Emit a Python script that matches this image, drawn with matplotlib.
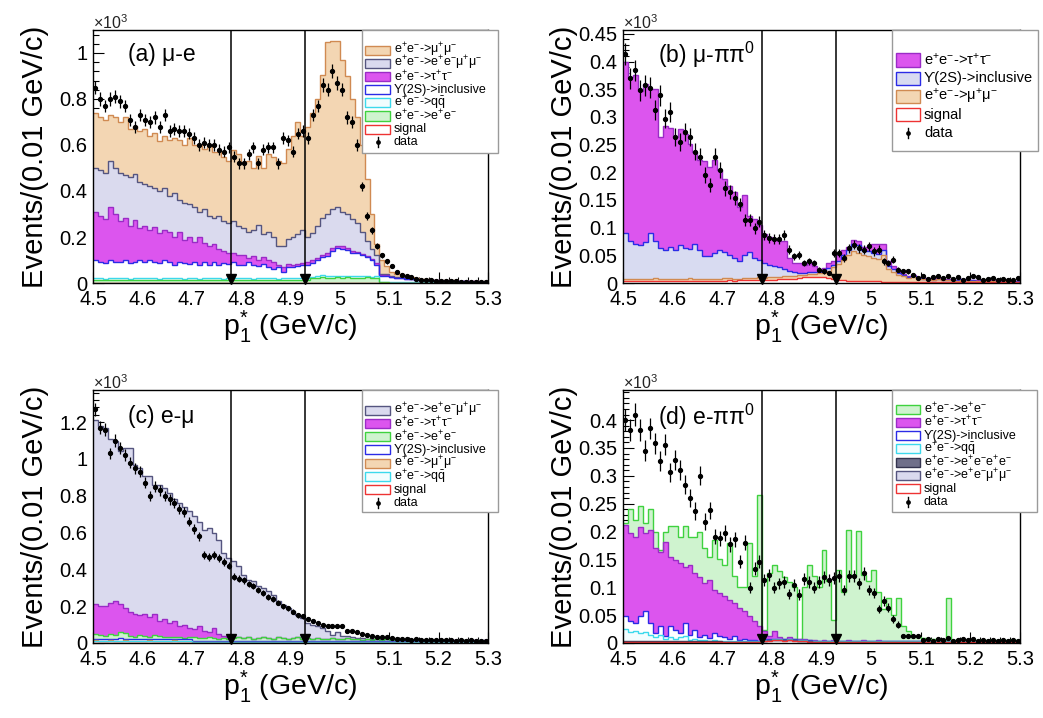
import numpy as np
import matplotlib
matplotlib.use("Agg")
import matplotlib.pyplot as plt
from matplotlib.patches import Rectangle
from matplotlib.lines import Line2D
import matplotlib.transforms as mtransforms
from matplotlib.ticker import FuncFormatter, MultipleLocator

plt.rcParams['font.family'] = ['Liberation Sans', 'DejaVu Sans']
plt.rcParams['mathtext.fontset'] = 'custom'
plt.rcParams['mathtext.rm'] = 'Liberation Sans'
plt.rcParams['mathtext.it'] = 'Liberation Sans:italic'
plt.rcParams['mathtext.bf'] = 'Liberation Sans:bold'
plt.rcParams['mathtext.default'] = 'regular'

# ---------------- binning ----------------
x_lo, x_hi, n_bins = 4.5, 5.3, 80
cut_lo, cut_hi = 4.78, 4.93

# ---------------- panel (a) mu-e ----------------
a_signal = [0.002]*60 + [0.001]*20
a_qq = [0.008,0.009,0.007,0.008,0.008,0.009,0.008,0.007,0.008,0.008,
        0.009,0.008,0.008,0.007,0.008,0.009,0.008,0.008,0.007,0.008,
        0.008,0.008,0.009,0.008,0.007,0.008,0.008,0.009,0.008,0.008,
        0.007,0.008,0.008,0.008,0.009,0.008,0.007,0.008,0.008,0.008,
        0.008,0.009,0.008,0.008,0.008,0.008,0.009,0.008,0.008,0.007,
        0.008,0.008,0.009,0.008,0.008,0.007,0.008,0.008,0.001,0.001,
        0.001,0.001,0.001,0.001,0.001,0.001,0.001,0.001,0.001,0.001,
        0.001,0.001,0.001,0.001,0.001,0.001,0.001,0.001,0.001,0.001]
a_ee = [0.010,0.011,0.009,0.012,0.010,0.009,0.011,0.010,0.012,0.010,
        0.009,0.010,0.012,0.010,0.011,0.009,0.010,0.011,0.010,0.012,
        0.010,0.009,0.011,0.010,0.012,0.010,0.009,0.011,0.010,0.010,
        0.011,0.010,0.009,0.012,0.010,0.010,0.011,0.009,0.010,0.011,
        0.010,0.011,0.010,0.010,0.018,0.020,0.022,0.019,0.021,0.023,
        0.020,0.022,0.019,0.021,0.020,0.022,0.018,0.020,0.001,0.001,
        0.001,0.001,0.001,0.001,0.001,0.001,0.001,0.001,0.001,0.001,
        0.001,0.001,0.001,0.001,0.001,0.001,0.001,0.001,0.001,0.001]
a_y2s = [0.08,0.07,0.07,0.08,0.07,0.07,0.08,0.07,0.07,0.08,
         0.07,0.08,0.07,0.07,0.08,0.07,0.06,0.07,0.07,0.06,
         0.07,0.06,0.07,0.06,0.07,0.06,0.07,0.06,0.07,0.06,
         0.06,0.07,0.06,0.05,0.06,0.05,0.04,0.05,0.03,0.05,
         0.05,0.05,0.06,0.06,0.06,0.07,0.08,0.09,0.11,0.12,
         0.12,0.11,0.10,0.10,0.09,0.08,0.07,0.05,0.027,0.027,
         0.022,0.017,0.017,0.013,0.013,0.008,0.008,0.008,0.006,0.006,
         0.005,0.005,0.005,0.004,0.004,0.004,0.003,0.003,0.002,0.002]
a_tautau = [0.21,0.20,0.19,0.23,0.21,0.18,0.18,0.16,0.18,0.14,
            0.16,0.13,0.15,0.13,0.13,0.13,0.12,0.13,0.10,0.12,
            0.09,0.12,0.08,0.08,0.08,0.07,0.05,0.05,0.04,0.04,
            0.04,0.02,0.04,0.03,0.03,0.03,0.03,0.01,0.02,0.01,
            0.01,0.01,0.005,0.01,0.01,0.01,0.01,0.01,0.01,0.01,
            0.01,0.01,0.01,0.005,0.005,0.005,0.005,0.005,0.005,0.005,
            0.003,0.003,0.003,0.003,0.002,0.002,0.002,0.002,0.002,0.002,
            0.002,0.002,0.002,0.002,0.001,0.001,0.001,0.001,0.001,0.001]
a_eemumu = [0.19,0.20,0.20,0.20,0.20,0.21,0.19,0.21,0.20,0.20,
            0.18,0.19,0.17,0.18,0.18,0.16,0.19,0.14,0.16,0.14,
            0.15,0.11,0.15,0.13,0.11,0.14,0.13,0.13,0.14,0.13,
            0.12,0.11,0.11,0.15,0.10,0.12,0.11,0.08,0.09,0.11,
            0.12,0.13,0.145,0.11,0.12,0.14,0.16,0.17,0.17,0.17,
            0.15,0.15,0.14,0.125,0.095,0.065,0.045,0.035,0.005,0.003,
            0.002,0.002,0.001,0.002,0.001,0.003,0.001,0.001,0.001,0.001,
            0.001,0.001,0.001,0.001,0.001,0.001,0.001,0.001,0.001,0.001]
a_mumu = [0.24,0.23,0.23,0.20,0.22,0.22,0.25,0.21,0.21,0.22,
          0.24,0.22,0.24,0.22,0.23,0.24,0.24,0.26,0.25,0.29,
          0.27,0.29,0.26,0.31,0.29,0.28,0.28,0.27,0.31,0.31,
          0.28,0.31,0.27,0.30,0.29,0.34,0.35,0.37,0.36,0.39,
          0.44,0.49,0.41,0.48,0.52,0.55,0.62,0.75,0.73,0.72,
          0.66,0.60,0.52,0.46,0.38,0.27,0.15,0.05,0.06,0.035,
          0.02,0.015,0.013,0.01,0.007,0.005,0.005,0.003,0.002,0.002,
          0.001,0.001,0.001,0.001,0.001,0.001,0.001,0.001,0.001,0.001]
a_data = [0.85,0.80,0.77,0.80,0.81,0.79,0.77,0.71,0.68,0.73,
          0.71,0.70,0.72,0.68,0.73,0.66,0.67,0.66,0.66,0.65,
          0.63,0.60,0.61,0.60,0.60,0.58,0.57,0.59,0.55,0.52,
          0.52,0.56,0.59,0.52,0.58,0.59,0.59,0.52,0.63,0.62,
          0.57,0.65,0.66,0.63,0.73,0.77,0.86,0.84,0.92,0.87,
          0.84,0.72,0.70,0.60,0.42,0.29,0.23,0.16,0.12,0.094,
          0.072,0.05,0.036,0.029,0.026,0.017,0.014,0.014,0.012,0.010,
          0.010,0.009,0.007,0.007,0.006,0.006,0.006,0.004,0.004,0.003]

# ---------------- panel (b) mu-pi pi0 ----------------
b_signal = [0.004,0.003,0.004,0.004,0.003,0.004,0.004,0.003,0.004,0.004,
            0.004,0.004,0.003,0.004,0.004,0.004,0.003,0.004,0.004,0.004,
            0.004,0.005,0.004,0.005,0.005,0.005,0.005,0.006,0.006,0.006,
            0.006,0.007,0.007,0.008,0.008,0.009,0.010,0.011,0.011,0.011,
            0.010,0.009,0.008,0.006,0.005,0.004,0.004,0.003,0.003,0.003,
            0.003,0.003,0.002,0.002,0.002,0.002,0.002,0.002,0.001,0.001,
            0.001,0.001,0.001,0.001,0.001,0.001,0.001,0.001,0.001,0.001,
            0.001,0.001,0.001,0.001,0.001,0.001,0.001,0.001,0.001,0.001]
b_mumu = [0.004,0.005,0.004,0.003,0.004,0.004,0.005,0.004,0.003,0.004,
          0.004,0.003,0.004,0.005,0.004,0.004,0.004,0.003,0.004,0.004,
          0.005,0.004,0.004,0.003,0.004,0.004,0.004,0.004,0.003,0.004,
          0.004,0.004,0.005,0.005,0.005,0.005,0.005,0.006,0.006,0.007,
          0.008,0.013,0.020,0.028,0.037,0.046,0.054,0.052,0.047,0.045,
          0.042,0.040,0.048,0.023,0.018,0.013,0.010,0.007,0.009,0.006,
          0.006,0.006,0.004,0.006,0.004,0.004,0.004,0.003,0.005,0.003,
          0.003,0.002,0.003,0.002,0.002,0.002,0.001,0.002,0.001,0.001]
b_y2s = [0.082,0.067,0.062,0.062,0.067,0.082,0.067,0.057,0.052,0.057,
         0.052,0.062,0.057,0.052,0.062,0.052,0.042,0.042,0.047,0.052,
         0.047,0.042,0.037,0.032,0.042,0.047,0.037,0.032,0.027,0.022,
         0.020,0.017,0.013,0.009,0.007,0.004,0.003,0.002,0.002,0.002,
         0.004,0.005,0.004,0.006,0.008,0.010,0.012,0.013,0.010,0.010,
         0.010,0.009,0.010,0.005,0.005,0.003,0.002,0.002,0.002,0.002,
         0.001,0.001,0.001,0.001,0.001,0.001,0.001,0.001,0.001,0.001,
         0.001,0.001,0.001,0.001,0.001,0.001,0.001,0.001,0.001,0.001]
b_tautau = [0.310,0.297,0.305,0.278,0.285,0.260,0.275,0.200,0.225,0.215,
            0.204,0.210,0.205,0.190,0.167,0.162,0.172,0.160,0.167,0.144,
            0.131,0.124,0.120,0.098,0.108,0.065,0.069,0.062,0.052,0.051,
            0.049,0.047,0.050,0.023,0.016,0.018,0.015,0.018,0.011,0.004,
            0.005,0.009,0.008,0.010,0.010,0.005,0.008,0.007,0.005,0.007,
            0.015,0.018,0.010,0.010,0.005,0.002,0.002,0.001,0.002,0.001,
            0.001,0.001,0.001,0.001,0.001,0.001,0.001,0.001,0.001,0.001,
            0.001,0.001,0.001,0.001,0.001,0.001,0.001,0.001,0.001,0.001]
b_data = [0.414,0.370,0.384,0.348,0.357,0.353,0.312,0.339,0.297,0.309,
          0.264,0.255,0.273,0.264,0.237,0.228,0.195,0.177,0.228,0.204,
          0.171,0.165,0.153,0.142,0.114,0.114,0.099,0.111,0.087,0.081,
          0.079,0.079,0.087,0.060,0.048,0.051,0.036,0.039,0.036,0.024,
          0.021,0.018,0.054,0.054,0.045,0.063,0.069,0.063,0.060,0.066,
          0.057,0.060,0.039,0.036,0.042,0.024,0.021,0.021,0.015,0.009,
          0.012,0.008,0.010,0.013,0.009,0.012,0.008,0.010,0.006,0.009,
          0.012,0.011,0.006,0.007,0.009,0.005,0.008,0.006,0.005,0.009]

# ---------------- panel (c) e-mu ----------------
c_signal = [0.002]*80
c_qq = [0.009,0.008,0.008,0.009,0.008,0.008,0.009,0.008,0.007,0.008,
        0.008,0.009,0.008,0.007,0.008,0.008,0.009,0.008,0.008,0.007,
        0.003,0.003,0.003,0.003,0.003,0.003,0.003,0.003,0.003,0.003,
        0.003,0.003,0.003,0.003,0.003,0.003,0.003,0.003,0.003,0.003,
        0.003,0.003,0.003,0.003,0.003,0.003,0.003,0.003,0.003,0.003,
        0.003,0.003,0.003,0.003,0.003,0.003,0.003,0.003,0.003,0.003,
        0.002,0.002,0.002,0.002,0.002,0.002,0.002,0.002,0.002,0.002,
        0.002,0.002,0.002,0.002,0.002,0.002,0.002,0.002,0.002,0.002]
c_mumu = [0.003]*80
c_y2s = [0.010,0.011,0.010,0.009,0.010,0.012,0.010,0.009,0.010,0.011,
         0.010,0.009,0.010,0.011,0.010,0.010,0.009,0.010,0.010,0.011,
         0.004,0.004,0.005,0.004,0.004,0.004,0.005,0.004,0.004,0.004,
         0.004,0.004,0.004,0.005,0.004,0.004,0.004,0.004,0.004,0.004,
         0.004,0.004,0.004,0.004,0.004,0.004,0.004,0.004,0.004,0.004,
         0.004,0.004,0.004,0.004,0.004,0.004,0.004,0.004,0.004,0.004,
         0.003,0.003,0.003,0.003,0.003,0.003,0.003,0.003,0.003,0.003,
         0.003,0.003,0.003,0.003,0.003,0.003,0.003,0.003,0.003,0.003]
c_ee = [0.027,0.022,0.017,0.027,0.022,0.037,0.032,0.017,0.012,0.017,
        0.017,0.012,0.022,0.017,0.007,0.007,0.012,0.007,0.002,0.007,
        0.018,0.013,0.013,0.018,0.013,0.008,0.013,0.008,0.013,0.018,
        0.013,0.018,0.008,0.013,0.018,0.013,0.008,0.018,0.013,0.008,
        0.013,0.018,0.008,0.013,0.008,0.013,0.008,0.008,0.013,0.008,
        0.008,0.013,0.008,0.008,0.003,0.008,0.003,0.008,0.003,0.008,
        0.006,0.005,0.008,0.004,0.006,0.005,0.003,0.006,0.005,0.003,
        0.005,0.003,0.005,0.003,0.004,0.005,0.003,0.003,0.005,0.003]
c_tautau = [0.160,0.155,0.160,0.170,0.185,0.150,0.135,0.130,0.125,0.110,
            0.120,0.105,0.115,0.080,0.100,0.080,0.085,0.060,0.075,0.050,
            0.045,0.065,0.040,0.030,0.055,0.030,0.010,0.010,0.005,0.003,
            0.002,0.002,0.002,0.002,0.002,0.002,0.002,0.002,0.002,0.002,
            0.002,0.002,0.002,0.002,0.002,0.002,0.002,0.002,0.002,0.002,
            0.001,0.001,0.001,0.001,0.001,0.001,0.001,0.001,0.001,0.001,
            0.001,0.001,0.001,0.001,0.001,0.001,0.001,0.001,0.001,0.001,
            0.001,0.001,0.001,0.001,0.001,0.001,0.001,0.001,0.001,0.001]
c_eemumu = [1.000,0.980,0.970,0.890,0.870,0.830,0.870,0.890,0.810,0.800,
            0.750,0.765,0.700,0.740,0.710,0.705,0.660,0.670,0.640,0.635,
            0.615,0.570,0.550,0.564,0.520,0.510,0.455,0.430,0.413,0.383,
            0.343,0.312,0.313,0.281,0.268,0.253,0.240,0.194,0.181,0.168,
            0.145,0.122,0.114,0.082,0.078,0.063,0.059,0.041,0.018,0.036,
            0.015,0.010,0.012,0.006,0.011,0.002,0.006,0.003,0.004,0.002,
            0.002,0.002,0.002,0.002,0.002,0.002,0.002,0.002,0.002,0.002,
            0.001,0.001,0.001,0.001,0.001,0.001,0.001,0.001,0.001,0.001]
c_data = [1.27,1.17,1.16,1.03,1.10,1.06,1.02,0.98,0.95,0.93,
          0.87,0.80,0.85,0.83,0.80,0.78,0.76,0.73,0.71,0.66,
          0.62,0.58,0.48,0.47,0.48,0.46,0.44,0.42,0.36,0.35,
          0.34,0.32,0.31,0.29,0.27,0.25,0.24,0.22,0.20,0.19,
          0.17,0.15,0.145,0.13,0.12,0.11,0.10,0.095,0.09,0.09,
          0.09,0.065,0.065,0.06,0.05,0.045,0.04,0.035,0.03,0.03,
          0.025,0.022,0.02,0.022,0.018,0.02,0.016,0.018,0.015,0.017,
          0.015,0.014,0.016,0.013,0.015,0.012,0.014,0.011,0.013,0.010]

# ---------------- panel (d) e-pi pi0 ----------------
d_signal = [0.001,0.001,0.001,0.001,0.001,0.001,0.001,0.001,0.001,0.001,
            0.001,0.001,0.001,0.001,0.001,0.001,0.001,0.001,0.001,0.001,
            0.001,0.001,0.001,0.001,0.001,0.001,0.001,0.001,0.003,0.004,
            0.005,0.005,0.004,0.005,0.004,0.003,0.003,0.002,0.001,0.001,
            0.001,0.001,0.001,0.001,0.001,0.001,0.001,0.001,0.001,0.001,
            0.001,0.001,0.001,0.001,0.001,0.001,0.001,0.001,0.001,0.001,
            0.001,0.001,0.001,0.001,0.001,0.001,0.001,0.001,0.001,0.001,
            0.001,0.001,0.001,0.001,0.001,0.001,0.001,0.001,0.001,0.001]
d_eemumu = [0.001]*80
d_eeee = [0.001]*20 + [0.0]*60
d_qq = [0.022,0.017,0.019,0.015,0.017,0.012,0.007,0.011,0.005,0.007,
        0.005,0.007,0.009,0.003,0.005,0.002,0.003,0.001,0.003,0.001,
        0.001,0.001,0.001,0.001,0.001,0.001,0.001,0.001,0.001,0.001,
        0.001,0.001,0.001,0.001,0.001,0.001,0.001,0.001,0.001,0.001,
        0.001,0.001,0.001,0.001,0.001,0.001,0.001,0.001,0.001,0.001,
        0.001,0.001,0.001,0.001,0.001,0.001,0.001,0.001,0.001,0.001,
        0.001,0.001,0.001,0.001,0.001,0.001,0.001,0.001,0.001,0.001,
        0.001,0.001,0.001,0.001,0.001,0.001,0.001,0.001,0.001,0.001]
d_y2s = [0.023,0.019,0.014,0.030,0.037,0.021,0.008,0.016,0.004,0.020,
         0.016,0.008,0.024,0.009,0.016,0.006,0.009,0.005,0.012,0.008,
         0.007,0.005,0.009,0.003,0.005,0.002,0.003,0.001,0.002,0.001,
         0.001,0.001,0.001,0.001,0.001,0.001,0.001,0.001,0.001,0.001,
         0.001,0.001,0.001,0.001,0.001,0.001,0.001,0.001,0.001,0.001,
         0.001,0.001,0.001,0.001,0.001,0.001,0.001,0.001,0.001,0.001,
         0.001,0.001,0.001,0.001,0.001,0.001,0.001,0.001,0.001,0.001,
         0.001,0.001,0.001,0.001,0.001,0.001,0.001,0.001,0.001,0.001]
d_tautau = [0.164,0.158,0.155,0.161,0.140,0.167,0.152,0.134,0.170,0.125,
            0.125,0.125,0.101,0.125,0.101,0.108,0.092,0.104,0.078,0.078,
            0.074,0.070,0.060,0.057,0.049,0.043,0.033,0.026,0.014,0.005,
            0.013,0.002,0.001,0.002,0.001,0.001,0.001,0.000,0.001,0.000,
            0.001,0.000,0.001,0.000,0.000,0.001,0.000,0.000,0.001,0.000,
            0.000,0.001,0.000,0.000,0.000,0.000,0.000,0.000,0.000,0.000,
            0.000,0.000,0.000,0.000,0.000,0.000,0.000,0.000,0.000,0.000,
            0.000,0.000,0.000,0.000,0.000,0.000,0.000,0.000,0.000,0.000]
d_ee = [0.003,0.043,0.029,0.036,0.018,0.037,0.030,0.003,0.018,0.055,
        0.061,0.047,0.073,0.050,0.065,0.081,0.063,0.042,0.089,0.060,
        0.056,0.102,0.048,0.037,0.043,0.132,0.081,0.235,0.002,0.113,
        0.119,0.120,0.111,0.100,0.092,0.001,0.094,0.135,0.116,0.097,
        0.162,0.107,0.037,0.127,0.087,0.197,0.117,0.197,0.117,0.107,
        0.127,0.087,0.057,0.077,0.047,0.077,0.027,0.017,0.009,0.007,
        0.005,0.003,0.003,0.002,0.002,0.077,0.001,0.001,0.001,0.001,
        0.001,0.001,0.001,0.001,0.001,0.001,0.001,0.001,0.001,0.001]
d_data = [0.400,0.382,0.410,0.382,0.345,0.385,0.358,0.327,0.356,0.306,
          0.328,0.310,0.284,0.260,0.237,0.300,0.218,0.238,0.191,0.188,
          0.198,0.177,0.186,0.146,0.180,0.099,0.133,0.146,0.113,0.122,
          0.099,0.107,0.109,0.088,0.104,0.087,0.115,0.110,0.099,0.110,
          0.119,0.113,0.116,0.120,0.095,0.120,0.120,0.107,0.125,0.095,
          0.090,0.061,0.076,0.063,0.043,0.033,0.013,0.013,0.013,0.012,
          0.006,0.008,0.004,0.007,0.005,0.009,0.004,0.006,0.008,0.005,
          0.007,0.004,0.006,0.003,0.005,0.004,0.006,0.003,0.005,0.004]

# ---------------- styles ----------------
STY = {
    'mumu':   dict(fc='#f3d6b3', ec='#d08a52'),
    'eemumu': dict(fc='#dadaee', ec='#55557f'),
    'tautau': dict(fc='#dc55ee', ec='#9a2cc6'),
    'y2s':    dict(fc='#ffffff', ec='#2b2be6'),
    'y2s_b':  dict(fc='#d8dbf1', ec='#2b2be6'),
    'qq':     dict(fc='#f2fdfe', ec='#3cd9ec'),
    'ee':     dict(fc='#cff3cf', ec='#3fd23f'),
    'signal': dict(fc='#ffffff', ec='#ee3333'),
    'eeee':   dict(fc='#70708a', ec='#34344f'),
}
LBL = {
    'mumu': 'e$^{+}$e$^{-}$->μ$^{+}$μ$^{-}$',
    'eemumu': 'e$^{+}$e$^{-}$->e$^{+}$e$^{-}$μ$^{+}$μ$^{-}$',
    'tautau': 'e$^{+}$e$^{-}$->τ$^{+}$τ$^{-}$',
    'y2s': 'ϒ(2S)->inclusive',
    'y2s_b': 'ϒ(2S)->inclusive',
    'qq': r'e$^{+}$e$^{-}$->q$\bar{\mathrm{q}}$',
    'ee': 'e$^{+}$e$^{-}$->e$^{+}$e$^{-}$',
    'eeee': 'e$^{+}$e$^{-}$->e$^{+}$e$^{-}$e$^{+}$e$^{-}$',
    'signal': 'signal',
    'data': 'data',
}

W, H = 1043, 718
fig = plt.figure(figsize=(W/100, H/100), dpi=100)
edges = np.linspace(x_lo, x_hi, n_bins + 1)
centers = 0.5 * (edges[:-1] + edges[1:])


def fx(px):
    return px / W


def fy(py):
    return 1 - py / H


def make_axes(l, t, r, b):
    return fig.add_axes([fx(l), fy(b), fx(r) - fx(l), fy(t) - fy(b)])


def draw_panel(ax, stack, data, ymax, yticks, yminor, title, tx, ty):
    # stack: list of (values, style) bottom -> top, drawn like a THStack
    tops = []
    total = np.zeros(n_bins)
    for vals, key in stack:
        total = total + np.asarray(vals, dtype=float)
        tops.append((total.copy(), key))
    for top, key in reversed(tops):
        s = STY[key]
        ax.stairs(top, edges, baseline=0, fill=True, facecolor=s['fc'],
                  edgecolor='none', linewidth=0, zorder=2)
        ax.stairs(top, edges, baseline=None, color=s['ec'], linewidth=1.0, zorder=3)
    d = np.asarray(data, dtype=float)
    ax.errorbar(centers, d, yerr=np.sqrt(d * 1000.0) / 1000.0, fmt='o', ms=2.8,
                color='black', ecolor='black', elinewidth=0.9, capsize=0, zorder=6)
    for xc in (cut_lo, cut_hi):
        ax.axvline(xc, color='black', lw=1.1, zorder=7)
        off = mtransforms.offset_copy(ax.transData, fig=fig, x=0, y=3.2, units='points')
        ax.plot([xc], [0], marker='v', ms=6.5, color='black', transform=off,
                clip_on=False, zorder=8)
    ax.set_xlim(x_lo, x_hi)
    ax.set_ylim(0, ymax)
    ax.set_xticks([4.5, 4.6, 4.7, 4.8, 4.9, 5.0, 5.1, 5.2, 5.3])
    ax.xaxis.set_minor_locator(MultipleLocator(0.02))
    ax.set_yticks(yticks)
    ax.yaxis.set_minor_locator(MultipleLocator(yminor))
    fmt = FuncFormatter(lambda v, p: '%g' % round(v, 4))
    ax.xaxis.set_major_formatter(fmt)
    ax.yaxis.set_major_formatter(fmt)
    ax.tick_params(which='both', direction='in', top=False, right=False,
                   labelsize=14.5, width=0.8)
    ax.tick_params(which='major', length=8)
    ax.tick_params(which='minor', length=4)
    ax.tick_params(axis='x', pad=5)
    ax.tick_params(axis='y', pad=4)
    for sp in ax.spines.values():
        sp.set_linewidth(1.0)
        sp.set_zorder(9)
    ax.text(fx(tx), fy(ty), title, transform=fig.transFigure, fontsize=16.5,
            ha='left', va='center')


def draw_legend(box, rows, keys, patch_x, text_x, patch_h, fs):
    x0, y0, x1, y1 = box
    fig.add_artist(Rectangle((fx(x0), fy(y1)), fx(x1) - fx(x0), fy(y0) - fy(y1),
                             transform=fig.transFigure, facecolor='white',
                             edgecolor='#9a9a9a', linewidth=1.0, zorder=20))
    for ry, key in zip(rows, keys):
        if key == 'data':
            cx = 0.5 * (patch_x[0] + patch_x[1])
            fig.add_artist(Line2D([fx(cx), fx(cx)], [fy(ry - 5), fy(ry + 5)],
                                  transform=fig.transFigure, color='black',
                                  lw=1.0, zorder=21))
            fig.add_artist(Line2D([fx(cx)], [fy(ry)], transform=fig.transFigure,
                                  marker='o', ms=2.4, color='black', zorder=21))
        else:
            s = STY[key]
            fig.add_artist(Rectangle((fx(patch_x[0]), fy(ry + patch_h / 2)),
                                     fx(patch_x[1]) - fx(patch_x[0]),
                                     fy(ry - patch_h / 2) - fy(ry + patch_h / 2),
                                     transform=fig.transFigure, facecolor=s['fc'],
                                     edgecolor=s['ec'], linewidth=1.0, zorder=21))
        fig.text(fx(text_x), fy(ry), LBL[key], fontsize=fs, ha='left',
                 va='center', zorder=22)


# ---- layout in pixels ----
L1, R1, L2, R2 = 93, 488, 623, 1020
T1, B1, T2, B2 = 30, 283, 390, 643

axa = make_axes(L1, T1, R1, B1)
draw_panel(axa, [(a_signal, 'signal'), (a_ee, 'ee'), (a_qq, 'qq'), (a_y2s, 'y2s'),
                 (a_tautau, 'tautau'), (a_eemumu, 'eemumu'), (a_mumu, 'mumu')],
           a_data, 1.1, [0, 0.2, 0.4, 0.6, 0.8, 1.0], 0.04, '(a) μ-e', 128, 55)

axb = make_axes(L2, T1, R2, B1)
draw_panel(axb, [(b_signal, 'signal'), (b_mumu, 'mumu'), (b_y2s, 'y2s_b'),
                 (b_tautau, 'tautau')],
           b_data, 0.457, [0, 0.05, 0.1, 0.15, 0.2, 0.25, 0.3, 0.35, 0.4, 0.45], 0.01,
           '(b) μ-ππ$^{0}$', 658, 55)

axc = make_axes(L1, T2, R1, B2)
draw_panel(axc, [(c_signal, 'signal'), (c_qq, 'qq'), (c_mumu, 'mumu'), (c_y2s, 'y2s'),
                 (c_ee, 'ee'), (c_tautau, 'tautau'), (c_eemumu, 'eemumu')],
           c_data, 1.375, [0, 0.2, 0.4, 0.6, 0.8, 1.0, 1.2], 0.04, '(c) e-μ', 128, 417)

axd = make_axes(L2, T2, R2, B2)
draw_panel(axd, [(d_signal, 'signal'), (d_eemumu, 'eemumu'), (d_eeee, 'eeee'),
                 (d_qq, 'qq'), (d_y2s, 'y2s'), (d_tautau, 'tautau'), (d_ee, 'ee')],
           d_data, 0.454, [0, 0.05, 0.1, 0.15, 0.2, 0.25, 0.3, 0.35, 0.4], 0.01,
           '(d) e-ππ$^{0}$', 658, 417)

# axis titles
for (l, r, t, b, yx) in [(L1, R1, T1, B1, 35), (L2, R2, T1, B1, 564),
                         (L1, R1, T2, B2, 35), (L2, R2, T2, B2, 564)]:
    fig.text(fx(yx), fy(0.5 * (t + b)), 'Events/(0.01 GeV/c)',
             rotation=90, fontsize=21, ha='center', va='center')
    fig.text(fx(0.5 * (l + r)), fy(b + 52), r'p$^{*}_{1}$ (GeV/c)',
             fontsize=20.5, ha='center', va='baseline')
    fig.text(fx(l), fy(t - 1), r'×10$^{3}$', fontsize=11.5,
             ha='left', va='baseline', color='#222222')

# legends
rows8_a = [50 + 13.2 * k for k in range(8)]
draw_legend((362, 30, 498, 153), rows8_a,
            ['mumu', 'eemumu', 'tautau', 'y2s', 'qq', 'ee', 'signal', 'data'],
            (365, 390), 394, 9, 9)
rows5_b = [60 + 18.3 * k for k in range(5)]
draw_legend((892, 30, 1038, 151), rows5_b,
            ['tautau', 'y2s_b', 'mumu', 'signal', 'data'],
            (896, 920), 924, 13, 10.5)
rows8_c = [410 + 13.3 * k for k in range(8)]
draw_legend((362, 390, 498, 512), rows8_c,
            ['eemumu', 'tautau', 'ee', 'y2s', 'mumu', 'qq', 'signal', 'data'],
            (365, 390), 394, 9, 9)
rows8_d = [409 + 13.3 * k for k in range(8)]
draw_legend((892, 390, 1037, 512), rows8_d,
            ['ee', 'tautau', 'y2s', 'qq', 'eeee', 'eemumu', 'signal', 'data'],
            (896, 920), 924, 9, 9)

fig.savefig('out.png', dpi=100)
